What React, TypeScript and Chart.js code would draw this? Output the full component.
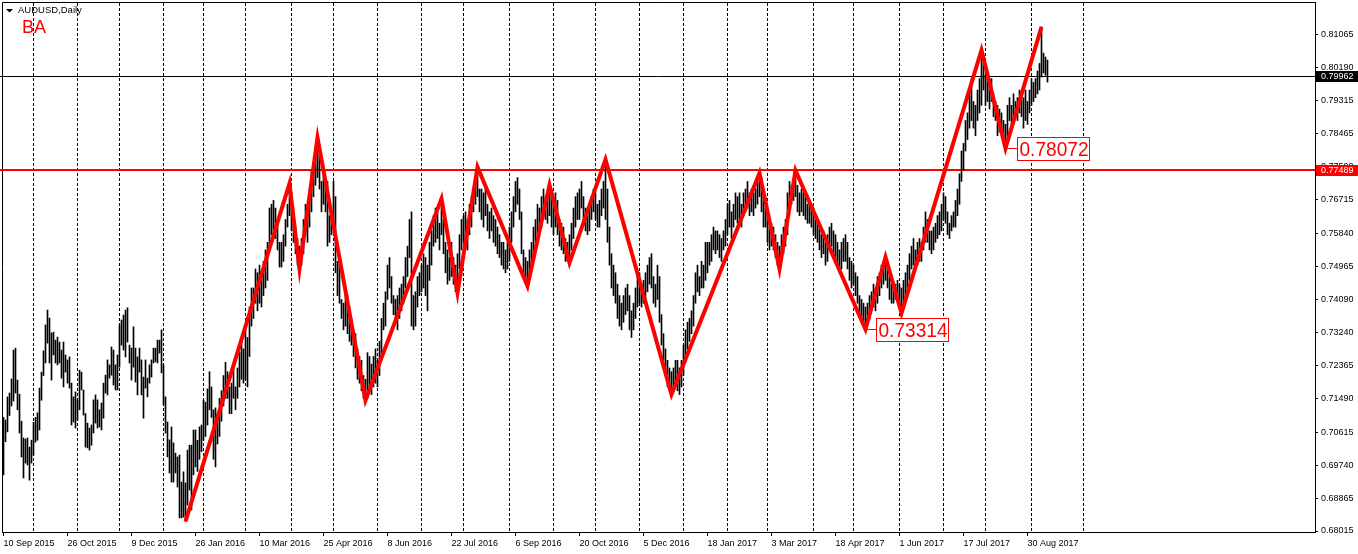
import React, { useEffect, useRef } from 'react';
import { Chart, registerables } from 'chart.js';
Chart.register(...registerables);

// Daily bar highs (AUDUSD, 10 Sep 2015 .. 13 Sep 2017)
const barHigh = [
  0.7100,0.7093,0.7154,0.7164,0.7201,0.7277,0.7282,0.7198,0.7161,0.7090,
  0.7046,0.7043,0.7046,0.7022,0.7040,0.7087,0.7100,0.7112,0.7177,0.7219,
  0.7275,0.7343,0.7382,0.7361,0.7322,0.7324,0.7303,0.7311,0.7298,0.7277,
  0.7298,0.7264,
  0.7251,0.7259,0.7190,0.7154,0.7167,0.7146,0.7224,0.7219,0.7172,0.7110,
  0.7085,0.7072,0.7080,0.7146,0.7159,0.7146,0.7120,0.7138,0.7190,0.7211,
  0.7251,0.7238,0.7285,0.7277,0.7238,0.7264,0.7343,0.7356,0.7369,0.7382,
  0.7388,0.7290,
  0.7282,0.7338,0.7282,0.7259,0.7282,0.7251,0.7206,0.7251,0.7203,0.7238,
  0.7251,0.7282,0.7282,0.7303,0.7303,0.7330,0.7238,0.7154,0.7088,0.7041,
  0.7075,0.7033,0.7006,0.6996,0.7001,0.6930,0.6957,0.6928,0.7014,0.7027,
  0.7027,0.7067,
  0.7067,0.7040,0.7075,0.7080,0.7145,0.7140,0.7175,0.7220,0.7180,0.7120,
  0.7125,0.7110,0.7150,0.7170,0.7210,0.7245,0.7220,0.7180,0.7190,0.7230,
  0.7180,0.7230,0.7270,0.7300,0.7280,0.7340,0.7310,0.7390,0.7440,0.7440,
  0.7490,0.7480,
  0.7500,0.7480,0.7510,0.7540,0.7560,0.7650,0.7660,0.7670,0.7650,0.7610,
  0.7560,0.7560,0.7580,0.7620,0.7660,0.7715,0.7690,0.7630,0.7600,0.7570,
  0.7550,0.7570,0.7620,0.7660,0.7650,0.7690,0.7750,0.7760,0.7790,0.7835,
  0.7790,0.7720,
  0.7750,0.7730,0.7720,0.7630,0.7640,0.7720,0.7680,0.7510,0.7520,0.7410,
  0.7400,0.7440,0.7420,0.7390,0.7360,0.7330,0.7320,0.7280,0.7260,0.7250,
  0.7210,0.7200,0.7270,0.7260,0.7240,0.7260,0.7280,0.7250,0.7300,0.7360,
  0.7400,0.7430,
  0.7500,0.7520,0.7470,0.7420,0.7410,0.7420,0.7440,0.7450,0.7470,0.7520,
  0.7550,0.7620,0.7640,0.7420,0.7430,0.7470,0.7480,0.7500,0.7530,0.7520,
  0.7500,0.7560,0.7590,0.7630,0.7650,0.7640,0.7610,0.7675,0.7620,0.7560,
  0.7540,0.7520,
  0.7560,0.7520,0.7500,0.7530,0.7580,0.7620,0.7630,0.7640,0.7620,0.7660,
  0.7680,0.7700,0.7720,0.7758,0.7700,0.7700,0.7690,0.7700,0.7660,0.7640,
  0.7650,0.7630,0.7620,0.7600,0.7580,0.7560,0.7560,0.7540,0.7560,0.7600,
  0.7640,0.7680,
  0.7720,0.7730,0.7700,0.7640,0.7540,0.7520,0.7510,0.7540,0.7560,0.7600,
  0.7620,0.7660,0.7650,0.7680,0.7700,0.7680,0.7690,0.7711,0.7680,0.7660,
  0.7690,0.7670,0.7620,0.7610,0.7600,0.7570,0.7560,0.7580,0.7610,0.7650,
  0.7680,0.7690,
  0.7700,0.7720,0.7680,0.7650,0.7640,0.7660,0.7680,0.7700,0.7690,0.7660,
  0.7670,0.7700,0.7720,0.7778,0.7700,0.7600,0.7530,0.7500,0.7480,0.7450,
  0.7420,0.7400,0.7420,0.7440,0.7450,0.7420,0.7380,0.7400,0.7440,0.7470,
  0.7480,0.7450,
  0.7460,0.7480,0.7500,0.7520,0.7530,0.7470,0.7450,0.7500,0.7470,0.7370,
  0.7320,0.7280,0.7250,0.7230,0.7220,0.7230,0.7250,0.7250,0.7230,0.7250,
  0.7290,0.7330,0.7350,0.7360,0.7380,0.7420,0.7480,0.7500,0.7470,0.7510,
  0.7500,0.7560,
  0.7560,0.7560,0.7580,0.7600,0.7590,0.7590,0.7580,0.7570,0.7590,0.7620,
  0.7660,0.7670,0.7640,0.7660,0.7690,0.7680,0.7690,0.7660,0.7690,0.7700,
  0.7720,0.7690,0.7700,0.7690,0.7700,0.7720,0.7742,0.7710,0.7680,0.7650,
  0.7630,0.7600,
  0.7610,0.7600,0.7580,0.7560,0.7550,0.7580,0.7600,0.7620,0.7690,0.7720,
  0.7710,0.7720,0.7749,0.7710,0.7690,0.7700,0.7690,0.7680,0.7660,0.7670,
  0.7650,0.7650,0.7620,0.7610,0.7600,0.7580,0.7590,0.7560,0.7580,0.7600,
  0.7610,0.7590,
  0.7580,0.7560,0.7540,0.7560,0.7570,0.7580,0.7560,0.7520,0.7510,0.7500,
  0.7480,0.7470,0.7420,0.7410,0.7400,0.7390,0.7400,0.7420,0.7430,0.7450,
  0.7440,0.7470,0.7480,0.7500,0.7510,0.7521,0.7490,0.7470,0.7450,0.7440,
  0.7450,0.7460,
  0.7450,0.7440,0.7460,0.7480,0.7500,0.7530,0.7550,0.7570,0.7540,0.7560,
  0.7570,0.7560,0.7600,0.7640,0.7620,0.7590,0.7590,0.7600,0.7610,0.7630,
  0.7640,0.7660,0.7690,0.7680,0.7640,0.7610,0.7630,0.7640,0.7670,0.7700,
  0.7740,0.7800,
  0.7820,0.7880,0.7900,0.7960,0.7990,0.7930,0.7920,0.7960,0.7990,0.8065,
  0.8030,0.8000,0.7990,0.7980,0.7990,0.7950,0.7930,0.7920,0.7910,0.7900,
  0.7880,0.7870,0.7920,0.7940,0.7920,0.7950,0.7930,0.7940,0.7960,0.7950,
  0.7940,0.7960,
  0.7930,0.7960,0.7990,0.7980,0.7990,0.8010,0.8030,0.8126,0.8057,0.8047,
  0.8039,
];

// Daily bar lows
const barLow = [
  0.6949,0.7036,0.7062,0.7105,0.7130,0.7143,0.7164,0.7120,0.7059,0.6996,
  0.6941,0.6980,0.6975,0.6935,0.6980,0.7001,0.7035,0.7040,0.7067,0.7145,
  0.7210,0.7243,0.7295,0.7243,0.7198,0.7264,0.7243,0.7238,0.7243,0.7203,
  0.7180,0.7219,
  0.7190,0.7177,0.7080,0.7088,0.7072,0.7093,0.7120,0.7172,0.7106,0.7022,
  0.7020,0.7014,0.7027,0.7059,0.7085,0.7072,0.7075,0.7067,0.7098,0.7164,
  0.7159,0.7203,0.7211,0.7185,0.7172,0.7172,0.7232,0.7290,0.7277,0.7259,
  0.7298,0.7243,
  0.7198,0.7232,0.7193,0.7159,0.7219,0.7159,0.7098,0.7177,0.7154,0.7190,
  0.7206,0.7243,0.7246,0.7243,0.7269,0.7217,0.7133,0.7059,0.6996,0.6954,
  0.6930,0.6930,0.6954,0.6917,0.6836,0.6836,0.6838,0.6827,0.6870,0.6909,
  0.6857,0.6949,
  0.6970,0.6958,0.6990,0.7010,0.7040,0.7050,0.7080,0.7120,0.7100,0.6990,
  0.6970,0.7030,0.7050,0.7090,0.7130,0.7150,0.7150,0.7110,0.7110,0.7150,
  0.7120,0.7150,0.7180,0.7200,0.7190,0.7200,0.7180,0.7260,0.7340,0.7360,
  0.7400,0.7380,
  0.7400,0.7390,0.7420,0.7440,0.7460,0.7540,0.7580,0.7590,0.7570,0.7540,
  0.7495,0.7495,0.7510,0.7550,0.7600,0.7630,0.7590,0.7560,0.7530,0.7500,
  0.7490,0.7500,0.7530,0.7580,0.7560,0.7600,0.7640,0.7680,0.7710,0.7730,
  0.7700,0.7640,
  0.7660,0.7640,0.7550,0.7560,0.7580,0.7600,0.7480,0.7420,0.7400,0.7360,
  0.7330,0.7340,0.7320,0.7300,0.7290,0.7260,0.7230,0.7200,0.7190,0.7170,
  0.7150,0.7145,0.7150,0.7180,0.7160,0.7180,0.7190,0.7180,0.7210,0.7250,
  0.7330,0.7340,
  0.7410,0.7440,0.7400,0.7370,0.7350,0.7330,0.7360,0.7380,0.7400,0.7440,
  0.7470,0.7520,0.7340,0.7330,0.7340,0.7390,0.7420,0.7430,0.7440,0.7420,
  0.7380,0.7460,0.7500,0.7550,0.7560,0.7570,0.7540,0.7580,0.7530,0.7480,
  0.7450,0.7460,
  0.7470,0.7450,0.7430,0.7427,0.7490,0.7540,0.7560,0.7570,0.7540,0.7580,
  0.7600,0.7640,0.7660,0.7680,0.7640,0.7620,0.7600,0.7630,0.7590,0.7570,
  0.7590,0.7560,0.7550,0.7530,0.7520,0.7500,0.7490,0.7480,0.7490,0.7510,
  0.7560,0.7600,
  0.7640,0.7660,0.7620,0.7530,0.7480,0.7460,0.7445,0.7470,0.7490,0.7520,
  0.7560,0.7580,0.7590,0.7600,0.7630,0.7620,0.7610,0.7630,0.7600,0.7580,
  0.7600,0.7580,0.7550,0.7540,0.7530,0.7510,0.7510,0.7506,0.7540,0.7570,
  0.7600,0.7620,
  0.7620,0.7650,0.7610,0.7590,0.7580,0.7590,0.7620,0.7640,0.7620,0.7600,
  0.7600,0.7630,0.7650,0.7620,0.7560,0.7500,0.7440,0.7420,0.7400,0.7360,
  0.7340,0.7330,0.7350,0.7370,0.7380,0.7330,0.7310,0.7330,0.7360,0.7390,
  0.7400,0.7390,
  0.7400,0.7410,0.7430,0.7450,0.7440,0.7400,0.7390,0.7410,0.7350,0.7290,
  0.7250,0.7210,0.7180,0.7170,0.7160,0.7170,0.7190,0.7170,0.7160,0.7180,
  0.7210,0.7250,0.7280,0.7300,0.7320,0.7340,0.7400,0.7430,0.7420,0.7440,
  0.7440,0.7460,
  0.7480,0.7500,0.7510,0.7540,0.7530,0.7540,0.7520,0.7510,0.7540,0.7550,
  0.7580,0.7600,0.7570,0.7600,0.7620,0.7610,0.7620,0.7600,0.7630,0.7640,
  0.7650,0.7630,0.7640,0.7630,0.7650,0.7660,0.7680,0.7640,0.7600,0.7600,
  0.7560,0.7540,
  0.7550,0.7540,0.7520,0.7500,0.7490,0.7510,0.7530,0.7550,0.7580,0.7650,
  0.7660,0.7670,0.7680,0.7640,0.7630,0.7640,0.7630,0.7620,0.7610,0.7610,
  0.7600,0.7580,0.7570,0.7560,0.7540,0.7520,0.7530,0.7500,0.7510,0.7540,
  0.7550,0.7520,
  0.7520,0.7500,0.7480,0.7490,0.7510,0.7510,0.7490,0.7460,0.7440,0.7450,
  0.7420,0.7400,0.7370,0.7350,0.7340,0.73314,0.7350,0.7360,0.7380,0.7390,
  0.7380,0.7400,0.7420,0.7440,0.7450,0.7460,0.7440,0.7410,0.7400,0.7400,
  0.7410,0.7420,
  0.7390,0.7374,0.7390,0.7410,0.7430,0.7460,0.7490,0.7500,0.7490,0.7500,
  0.7510,0.7510,0.7540,0.7560,0.7560,0.7540,0.7530,0.7540,0.7560,0.7570,
  0.7580,0.7590,0.7620,0.7610,0.7580,0.7570,0.7590,0.7600,0.7600,0.7630,
  0.7660,0.7720,
  0.7750,0.7800,0.7830,0.7860,0.7880,0.7860,0.7840,0.7880,0.7900,0.7920,
  0.7960,0.7920,0.7930,0.7910,0.7930,0.7890,0.7880,0.7840,0.7850,0.7860,
  0.7820,0.78072,0.7830,0.7880,0.7860,0.7870,0.7890,0.7880,0.7900,0.7890,
  0.7860,0.7880,
  0.7870,0.7900,0.7920,0.7930,0.7940,0.7950,0.7960,0.7994,0.8005,0.7999,
  0.7981,
];

// ZigZag pivots (bar index, price)
const zigzagIdx = [91, 143, 148, 157, 181, 219, 227, 237, 262, 273, 283, 301, 334, 378, 388, 396, 431, 441, 449, 489, 501, 519];
const zigzagVal = [0.6827, 0.7715, 0.7490, 0.7835, 0.7145, 0.7675, 0.7427, 0.7758, 0.7445, 0.7711, 0.7506, 0.7778, 0.7160, 0.7742, 0.7490, 0.7749, 0.73314, 0.7521, 0.7374, 0.8065, 0.78072, 0.8126];

// Price labels at pivots
const noteIdx = [431, 501];
const noteVal = [0.73314, 0.78072];
const noteText = ['0.73314', '0.78072'];

// Time axis
const xTickIdx = [0, 32, 64, 96, 128, 160, 192, 224, 256, 288, 320, 352, 384, 416, 448, 480, 512];
const xTickLabels = ['10 Sep 2015', '26 Oct 2015', '9 Dec 2015', '26 Jan 2016', '10 Mar 2016', '25 Apr 2016', '8 Jun 2016', '22 Jul 2016', '6 Sep 2016', '20 Oct 2016', '5 Dec 2016', '18 Jan 2017', '3 Mar 2017', '18 Apr 2017', '1 Jun 2017', '17 Jul 2017', '30 Aug 2017'];
const monthStartIdx = [15, 37, 58, 80, 100, 121, 144, 165, 187, 209, 230, 253, 275, 296, 318, 340, 362, 382, 405, 425, 448, 470, 491, 514, 540];

// Price axis
const yTicks = [0.81065, 0.80190, 0.79315, 0.78465, 0.77590, 0.76715, 0.75840, 0.74965, 0.74090, 0.73240, 0.72365, 0.71490, 0.70615, 0.69740, 0.68865, 0.68015];
const levelPrice = 0.77489;
const lastPrice = 0.79962;
const symbolTitle = 'AUDUSD,Daily';
const badgeText = 'BA';

const FONT = "'Liberation Sans', Arial, sans-serif";

export default function App() {
  const ref = useRef<HTMLCanvasElement>(null);

  useEffect(() => {
    const canvas = ref.current;
    if (!canvas) return;

    const bars = barHigh.map((h, i) => ({ x: i, y: [barLow[i], h] }));
    const zz = zigzagIdx.map((x, k) => ({ x, y: zigzagVal[k] }));

    const overlay = {
      id: 'mtOverlay',
      beforeDatasetsDraw(chart: any) {
        const { ctx, chartArea: a, scales } = chart;
        const xs = scales.x, ys = scales.y;
        ctx.save();
        // month separators (dashed)
        ctx.strokeStyle = '#000';
        ctx.lineWidth = 1;
        ctx.setLineDash([3, 2]);
        for (const m of monthStartIdx) {
          const px = Math.floor(xs.getPixelForValue(m)) + 0.5;
          ctx.beginPath();
          ctx.moveTo(px, a.top + 1);
          ctx.lineTo(px, a.bottom);
          ctx.stroke();
        }
        ctx.setLineDash([]);
        // frame left/top
        ctx.beginPath();
        ctx.moveTo(a.left + 0.5, a.bottom);
        ctx.lineTo(a.left + 0.5, a.top + 0.5);
        ctx.lineTo(a.right, a.top + 0.5);
        ctx.stroke();
        // horizontal levels
        const yl = Math.round(ys.getPixelForValue(levelPrice));
        ctx.fillStyle = '#ff0000';
        ctx.fillRect(0, yl - 1, a.right, 2);
        const yp = Math.floor(ys.getPixelForValue(lastPrice)) + 0.5;
        ctx.strokeStyle = '#000';
        ctx.beginPath();
        ctx.moveTo(0, yp);
        ctx.lineTo(a.right, yp);
        ctx.stroke();
        ctx.restore();
      },
      afterDraw(chart: any) {
        const { ctx, chartArea: a, scales } = chart;
        const xs = scales.x, ys = scales.y;
        ctx.save();
        // axis price tags
        const tag = (price: number, bg: string) => {
          const y = Math.round(ys.getPixelForValue(price));
          ctx.fillStyle = bg;
          ctx.fillRect(a.right + 1, y - 5, chart.width - a.right - 1, 11);
          ctx.fillStyle = '#fff';
          ctx.font = `9px ${FONT}`;
          ctx.textAlign = 'left';
          ctx.textBaseline = 'middle';
          ctx.fillText(price.toFixed(5), a.right + 6, y + 0.5);
        };
        tag(levelPrice, '#ff0000');
        tag(lastPrice, '#000');
        // pivot notes
        noteIdx.forEach((idx, k) => {
          const px = xs.getPixelForValue(idx);
          const py = ys.getPixelForValue(noteVal[k]);
          const bx = Math.round(px + 11) + 0.5;
          const by = Math.round(py - 11.5) + 0.5;
          ctx.strokeStyle = '#ff0000';
          ctx.lineWidth = 1;
          ctx.beginPath();
          ctx.moveTo(px, Math.round(py) + 0.5);
          ctx.lineTo(bx, Math.round(py) + 0.5);
          ctx.stroke();
          ctx.fillStyle = '#fff';
          ctx.fillRect(bx, by, 72, 23);
          ctx.strokeRect(bx, by, 72, 23);
          ctx.fillStyle = '#ff0000';
          ctx.font = `21px ${FONT}`;
          ctx.textAlign = 'left';
          ctx.textBaseline = 'middle';
          const w = ctx.measureText(noteText[k]).width;
          ctx.save();
          ctx.translate(bx + 2, by + 12.5);
          ctx.scale(69 / w, 1);
          ctx.fillText(noteText[k], 0, 0);
          ctx.restore();
        });
        // title
        ctx.fillStyle = '#000';
        ctx.beginPath();
        ctx.moveTo(6, 9);
        ctx.lineTo(13, 9);
        ctx.lineTo(9.5, 12.5);
        ctx.closePath();
        ctx.fill();
        ctx.font = `9.5px ${FONT}`;
        ctx.textAlign = 'left';
        ctx.textBaseline = 'middle';
        ctx.fillText(symbolTitle, 18, 10.5);
        ctx.fillStyle = '#ff0000';
        ctx.font = `18px ${FONT}`;
        ctx.textBaseline = 'alphabetic';
        ctx.fillText(badgeText, 22, 32.5);
        ctx.restore();
      },
    };

    const chart = new Chart(canvas, {
      type: 'bar',
      data: {
        datasets: [
          {
            type: 'line',
            data: zz,
            borderColor: '#ff0000',
            borderWidth: 4,
            pointRadius: 0,
            tension: 0,
            fill: false,
            order: 0,
          } as any,
          {
            type: 'bar',
            data: bars,
            backgroundColor: '#000',
            borderWidth: 0,
            barThickness: 1,
            grouped: false,
            order: 1,
          } as any,
        ],
      },
      options: {
        responsive: false,
        animation: false,
        events: [],
        layout: { padding: { left: 2, top: 2, right: 0, bottom: 0 } },
        plugins: { legend: { display: false }, tooltip: { enabled: false } },
        scales: {
          x: {
            type: 'linear',
            min: -0.75,
            max: 655.75,
            offset: false,
            afterFit: (s: any) => {
              s.height = 22;
              s.paddingLeft = 0;
              s.paddingRight = 0;
            },
            afterBuildTicks: (s: any) => { s.ticks = xTickIdx.map((v) => ({ value: v })); },
            grid: { offset: false, drawOnChartArea: false, tickLength: 4, color: '#000' },
            border: { color: '#000', width: 1 },
            ticks: {
              autoSkip: false,
              maxRotation: 0,
              align: 'start',
              padding: 2,
              color: '#000',
              font: { family: FONT, size: 9 },
              callback: (v: any) => {
                const k = xTickIdx.indexOf(Number(v));
                return k >= 0 ? xTickLabels[k] : '';
              },
            },
          },
          y: {
            position: 'right',
            min: 0.67989,
            max: 0.81914,
            afterFit: (s: any) => {
              s.width = 43;
              s.paddingTop = 0;
              s.paddingBottom = 0;
            },
            afterBuildTicks: (s: any) => { s.ticks = yTicks.map((v) => ({ value: v })); },
            grid: { drawOnChartArea: false, tickLength: 3, color: '#000' },
            border: { color: '#000', width: 1 },
            ticks: {
              autoSkip: false,
              padding: 3,
              color: '#000',
              font: { family: FONT, size: 9 },
              callback: (v: any) => Number(v).toFixed(5),
            },
          },
        },
      } as any,
      plugins: [overlay],
    });

    return () => chart.destroy();
  }, []);

  return (
    <div style={{ position: 'fixed', left: 0, top: 0, width: 1358, height: 554, background: '#fff' }}>
      <canvas ref={ref} width={1358} height={554} style={{ display: 'block' }} />
    </div>
  );
}
